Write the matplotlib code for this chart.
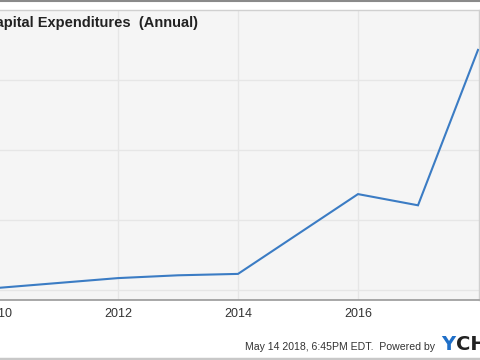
import matplotlib
matplotlib.use("Agg")
import matplotlib.pyplot as plt

years = [2010, 2011, 2012, 2013, 2014, 2015, 2016, 2017, 2018]
capex = [0.03, 0.10, 0.17, 0.21, 0.23, 0.80, 1.37, 1.21, 3.43]
xticks = [2010, 2012, 2014, 2016]
xticklabels = ["2010", "2012", "2014", "2016"]
title = "Capital Expenditures  (Annual)"
footer = "May 14 2018, 6:45PM EDT.  Powered by "

W, H = 480, 360
fig = plt.figure(figsize=(W / 100, H / 100), dpi=100)
fig.patch.set_facecolor("white")

left_px, right_px = -60, 479
top_px, bot_px = 10, 300
ax = fig.add_axes([left_px / W, (H - bot_px) / H, (right_px - left_px) / W, (bot_px - top_px) / H])
ax.set_facecolor("#f5f5f5")
ax.set_xlim(2018 - (478 - left_px) / 60, 2018 + (right_px - 478) / 60)
ax.set_ylim(-10 / 70, 4.0)

ax.plot(years, capex, color="#3b7cc4", lw=1.5, solid_joinstyle="miter", zorder=3)

ax.set_xticks(xticks)
ax.set_xticklabels(xticklabels, fontsize=9, color="#333333", family="Liberation Sans")
ax.set_yticks([0, 1, 2, 3])
ax.set_yticklabels([])
ax.tick_params(axis="both", length=0, pad=6)
ax.grid(True, color="#e6e6e6", lw=1)
ax.set_axisbelow(True)
for s in ["top", "right"]:
    ax.spines[s].set_color("#d0d0d0")
    ax.spines[s].set_linewidth(1)
ax.spines["left"].set_visible(False)
ax.spines["bottom"].set_color("#999999")
ax.spines["bottom"].set_linewidth(1.2)

fig.text(198 / W, 1 - 23 / H, title, ha="right", va="center", fontsize=10.5,
         fontweight="bold", color="#222222", family="Liberation Sans")

# footer
fig.text(438 / W, 1 - 347 / H, footer, ha="right", va="center", fontsize=7.6,
         color="#333333", family="Liberation Sans")
ty = fig.text(441 / W, 1 - 344 / H, "Y", ha="left", va="center", fontsize=14,
              fontweight="bold", color="#1f6fc8", family="DejaVu Sans")
fig.canvas.draw()
bb = ty.get_window_extent(fig.canvas.get_renderer())
fig.text(bb.x1 / W + 0.5 / W, 1 - 344 / H, "CH", ha="left", va="center", fontsize=14,
         fontweight="bold", color="#222222", family="DejaVu Sans")

fig.add_artist(plt.Line2D([0, 1], [1 - 0.5 / H, 1 - 0.5 / H], color="#8a8a8a", lw=1.5))
fig.add_artist(plt.Line2D([0, 1], [1.5 / H, 1.5 / H], color="#c8c8c8", lw=2.5))

fig.savefig("out.png", dpi=100)
